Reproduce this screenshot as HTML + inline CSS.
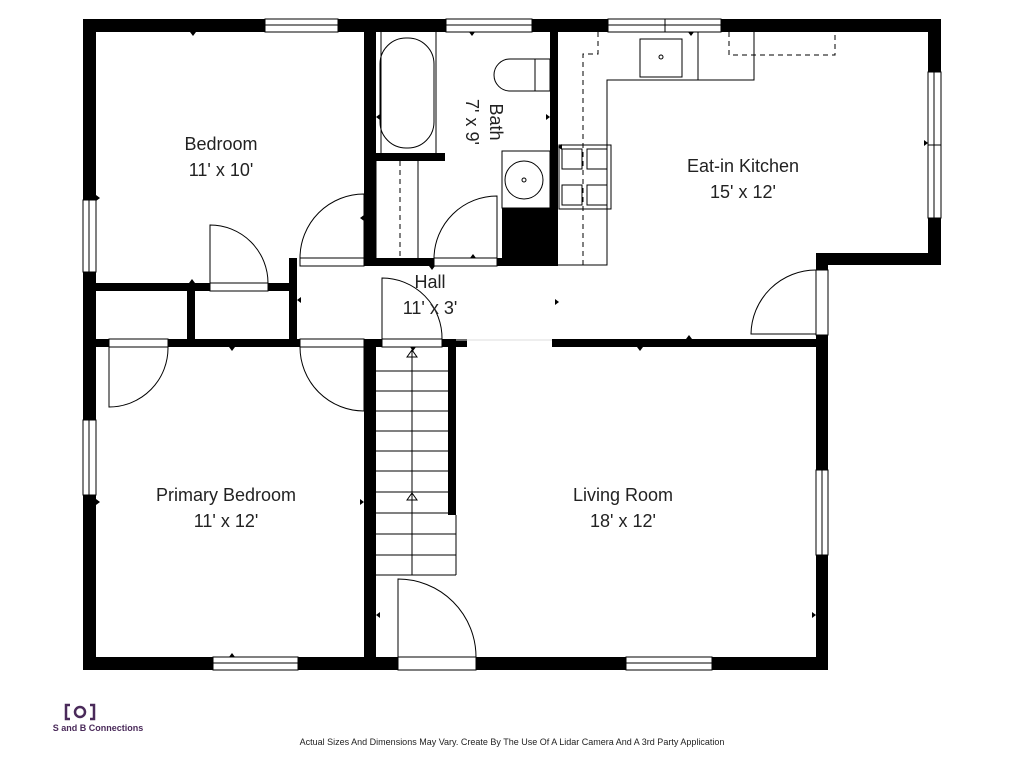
<!DOCTYPE html>
<html><head><style>
body{margin:0;background:#fff;width:1024px;height:768px;overflow:hidden}
svg{display:block}
text{font-family:"Liberation Sans","DejaVu Sans",sans-serif;fill:#222}
</style></head><body>
<svg width="1024" height="768" viewBox="0 0 1024 768">
<g fill="#000">
<!-- outer walls -->
<rect x="83" y="19" width="858" height="13"/>
<rect x="83" y="19" width="13" height="651"/>
<rect x="83" y="657" width="745" height="13"/>
<rect x="816" y="335" width="12" height="335"/>
<rect x="928" y="19" width="13" height="246"/>
<rect x="816" y="253" width="125" height="12"/>
<rect x="816" y="253" width="12" height="17"/>
<!-- interior -->
<rect x="364" y="19" width="12" height="247"/>
<rect x="550" y="19" width="8" height="247"/>
<rect x="364" y="258" width="194" height="8"/>
<rect x="289" y="258" width="8" height="89"/>
<rect x="83" y="283" width="214" height="8"/>
<rect x="83" y="339" width="384" height="8"/>
<rect x="187" y="283" width="8" height="64"/>
<rect x="552" y="339" width="276" height="8"/>
<rect x="364" y="339" width="12" height="331"/>
<rect x="448" y="339" width="8" height="176"/>
<rect x="376" y="153" width="69" height="8"/>
<rect x="502" y="208" width="48" height="58"/>
</g>
<g fill="#fff" stroke="#000" stroke-width="1">
<!-- windows -->
<rect x="265" y="19" width="73" height="13"/>
<line x1="265" y1="25" x2="338" y2="25"/>
<rect x="446" y="19" width="86" height="13"/>
<line x1="446" y1="25" x2="532" y2="25"/>
<rect x="608" y="19" width="113" height="13"/>
<line x1="608" y1="25" x2="721" y2="25"/>
<line x1="665" y1="19" x2="665" y2="32"/>
<rect x="83" y="200" width="13" height="72"/>
<line x1="89" y1="200" x2="89" y2="272"/>
<rect x="83" y="420" width="13" height="75"/>
<line x1="89" y1="420" x2="89" y2="495"/>
<rect x="213" y="657" width="85" height="13"/>
<line x1="213" y1="663" x2="298" y2="663"/>
<rect x="626" y="657" width="86" height="13"/>
<line x1="626" y1="663" x2="712" y2="663"/>
<rect x="928" y="72" width="13" height="146"/>
<line x1="934" y1="72" x2="934" y2="218"/>
<line x1="928" y1="145" x2="941" y2="145"/>
<rect x="816" y="470" width="12" height="85"/>
<line x1="822" y1="470" x2="822" y2="555"/>
<!-- door gaps -->
<rect x="210" y="283" width="58" height="8"/>
<rect x="300" y="258" width="64" height="8"/>
<rect x="434" y="258" width="63" height="8"/>
<rect x="109" y="339" width="59" height="8"/>
<rect x="300" y="339" width="64" height="8"/>
<rect x="382" y="339" width="60" height="8"/>
<rect x="398" y="657" width="78" height="13"/>
<rect x="816" y="270" width="12" height="65"/>
</g>
<g fill="none" stroke="#000" stroke-width="1">
<!-- door swings -->
<path d="M210 283 V225 A58 58 0 0 1 268 283"/>
<path d="M300 258 A64 64 0 0 1 364 194 V258"/>
<path d="M434 258 A63 63 0 0 1 497 196 V258"/>
<path d="M109 347 V407 A59 59 0 0 0 168 347"/>
<path d="M300 347 A64 64 0 0 0 364 411 V347"/>
<path d="M382 339 V278 A60 60 0 0 1 442 339"/>
<path d="M398 657 V579 A78 78 0 0 1 476 657"/>
<path d="M816 334 H751 A65 65 0 0 1 816 270"/>
<!-- tub -->
<path d="M381 32 V153 M436 32 V153"/>
<rect x="380" y="38" width="54" height="110" rx="26"/>
<!-- shower area -->
<line x1="376" y1="161" x2="376" y2="258"/>
<line x1="418" y1="161" x2="418" y2="258"/>
<line x1="400" y1="161" x2="400" y2="258" stroke-dasharray="5,4"/>
<!-- toilet -->
<path d="M535 59 H510 A16 16 0 0 0 510 91 H535 Z"/>
<rect x="535" y="59" width="15" height="32"/>
<!-- sink -->
<rect x="502" y="151" width="48" height="57"/>
<circle cx="524" cy="180" r="19"/>
<circle cx="524" cy="180" r="2"/>
<!-- kitchen counters -->
<path d="M558 265 H607 V80 H754 V32"/>
<line x1="698" y1="32" x2="698" y2="80"/>
<rect x="640" y="39" width="42" height="38"/>
<circle cx="661" cy="57" r="2"/>
<path d="M598 32 V54 H583 V265" stroke-dasharray="5,4"/>
<path d="M729 32 V55 H835 V32" stroke-dasharray="5,4"/>
<rect x="559" y="145" width="52" height="64"/>
<rect x="562" y="149" width="20" height="20"/><rect x="587" y="149" width="20" height="20"/>
<rect x="562" y="185" width="20" height="20"/><rect x="587" y="185" width="20" height="20"/>
<!-- stairs -->
<line x1="376" y1="371" x2="448" y2="371"/><line x1="376" y1="391" x2="448" y2="391"/>
<line x1="376" y1="411" x2="448" y2="411"/><line x1="376" y1="431" x2="448" y2="431"/>
<line x1="376" y1="451" x2="448" y2="451"/><line x1="376" y1="471" x2="448" y2="471"/>
<line x1="376" y1="492" x2="448" y2="492"/><line x1="376" y1="513" x2="456" y2="513"/>
<line x1="376" y1="534" x2="456" y2="534"/><line x1="376" y1="555" x2="456" y2="555"/>
<line x1="376" y1="575" x2="456" y2="575"/>
<line x1="456" y1="515" x2="456" y2="575"/>
<line x1="412" y1="350" x2="412" y2="575"/>
<path d="M407 357 L412 350 L417 357 Z"/><path d="M407 500 L412 493 L417 500 Z"/>
<!-- hall openings -->
<line x1="456" y1="340" x2="552" y2="340" stroke="#ddd"/>
</g>
<g fill="#000">
<path d="M190 32 l3 4 l3 -4z"/><path d="M189 283 l3 -4 l3 4z"/>
<path d="M96 195 l4 3 l-4 3z"/><path d="M364 215 l-4 3 l4 3z"/>
<path d="M469 32 l3 4 l3 -4z"/><path d="M429 266 l3 4 l3 -4z"/>
<path d="M470 258 l3 -4 l3 4z"/><path d="M376 117 l4 -3 v6z"/>
<path d="M550 117 l-4 -3 v6z"/><path d="M558 147 l4 -3 v6z"/>
<path d="M688 32 l3 4 l3 -4z"/><path d="M928 143 l-4 -3 v6z"/>
<path d="M555 299 l4 3 l-4 3z"/><path d="M686 339 l3 -4 l3 4z"/>
<path d="M637 347 l3 4 l3 -4z"/><path d="M297 300 l4 -3 v6z"/>
<path d="M229 347 l3 4 l3 -4z"/><path d="M96 499 l4 3 l-4 3z"/>
<path d="M364 502 l-4 -3 v6z"/><path d="M229 657 l3 -4 l3 4z"/>
<path d="M376 615 l4 -3 v6z"/><path d="M816 615 l-4 -3 v6z"/>
<path d="M410 347 l3 4 l3 -4z"/>
</g>
<text x="221" y="150" font-size="18" text-anchor="middle">Bedroom</text>
<text x="221" y="176" font-size="18" text-anchor="middle">11' x 10'</text>
<text x="743" y="172" font-size="18" text-anchor="middle">Eat-in Kitchen</text>
<text x="743" y="198" font-size="18" text-anchor="middle">15' x 12'</text>
<text x="430" y="288" font-size="18" text-anchor="middle">Hall</text>
<text x="430" y="314" font-size="18" text-anchor="middle">11' x 3'</text>
<text x="226" y="501" font-size="18" text-anchor="middle">Primary Bedroom</text>
<text x="226" y="527" font-size="18" text-anchor="middle">11' x 12'</text>
<text x="623" y="501" font-size="18" text-anchor="middle">Living Room</text>
<text x="623" y="527" font-size="18" text-anchor="middle">18' x 12'</text>
<text transform="translate(490,122) rotate(90)" font-size="18" text-anchor="middle">Bath</text>
<text transform="translate(466,122) rotate(90)" font-size="18" text-anchor="middle">7' x 9'</text>
<text x="512" y="745" font-size="9" text-anchor="middle">Actual Sizes And Dimensions May Vary. Create By The Use Of A Lidar Camera And A 3rd Party Application</text>
<g fill="none" stroke="#4a2a5a" stroke-width="2.5">
<path d="M70 705 h-4 v14 h4 M90 705 h4 v14 h-4"/>
<circle cx="80" cy="712" r="5"/>
</g>
<text x="98" y="731" font-size="9" text-anchor="middle" fill="#4a2a5a" style="fill:#4a2a5a;font-weight:bold">S and B Connections</text>
</svg>
</body></html>
